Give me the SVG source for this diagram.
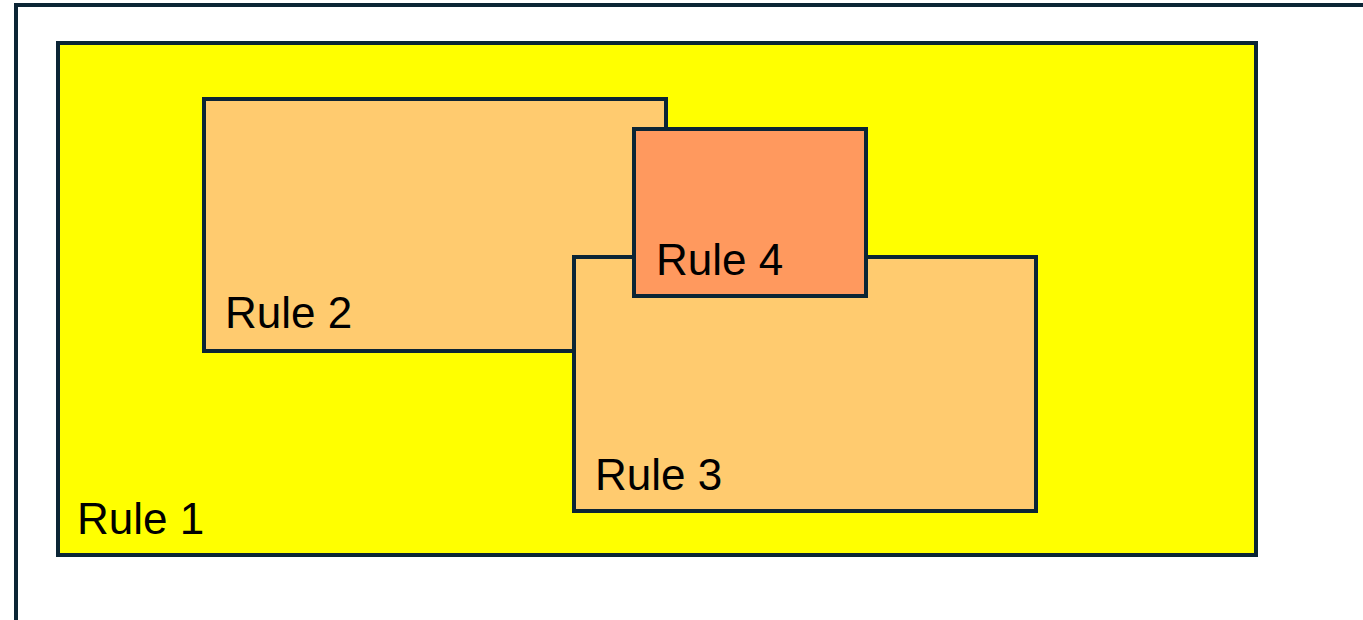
<svg xmlns="http://www.w3.org/2000/svg" width="1363" height="620" viewBox="0 0 1363 620">
<style>
.box{stroke:#0B2535;stroke-width:4}
.lbl{font-family:"Liberation Sans",Arial,sans-serif;font-size:44px;fill:#000}
</style>
<rect width="1363" height="620" fill="#FFFFFF"/>
<path d="M16,620 V5 H1363" fill="none" stroke="#0B2535" stroke-width="4"/>
<g id="rule1">
<rect class="box" x="58" y="43" width="1198" height="512" fill="#FFFF00"/>
<text class="lbl" x="77" y="534">Rule 1</text>
</g>
<g id="rule2">
<rect class="box" x="204" y="99" width="462" height="252" fill="#FFCB6F"/>
<text class="lbl" x="225" y="328">Rule 2</text>
</g>
<g id="rule3">
<rect class="box" x="574" y="257" width="462" height="254" fill="#FFCB6F"/>
<text class="lbl" x="595" y="490">Rule 3</text>
</g>
<g id="rule4">
<rect class="box" x="634" y="129" width="232" height="167" fill="#FF995E"/>
<text class="lbl" x="656" y="275">Rule 4</text>
</g>
<g id="connectors"></g>
</svg>
